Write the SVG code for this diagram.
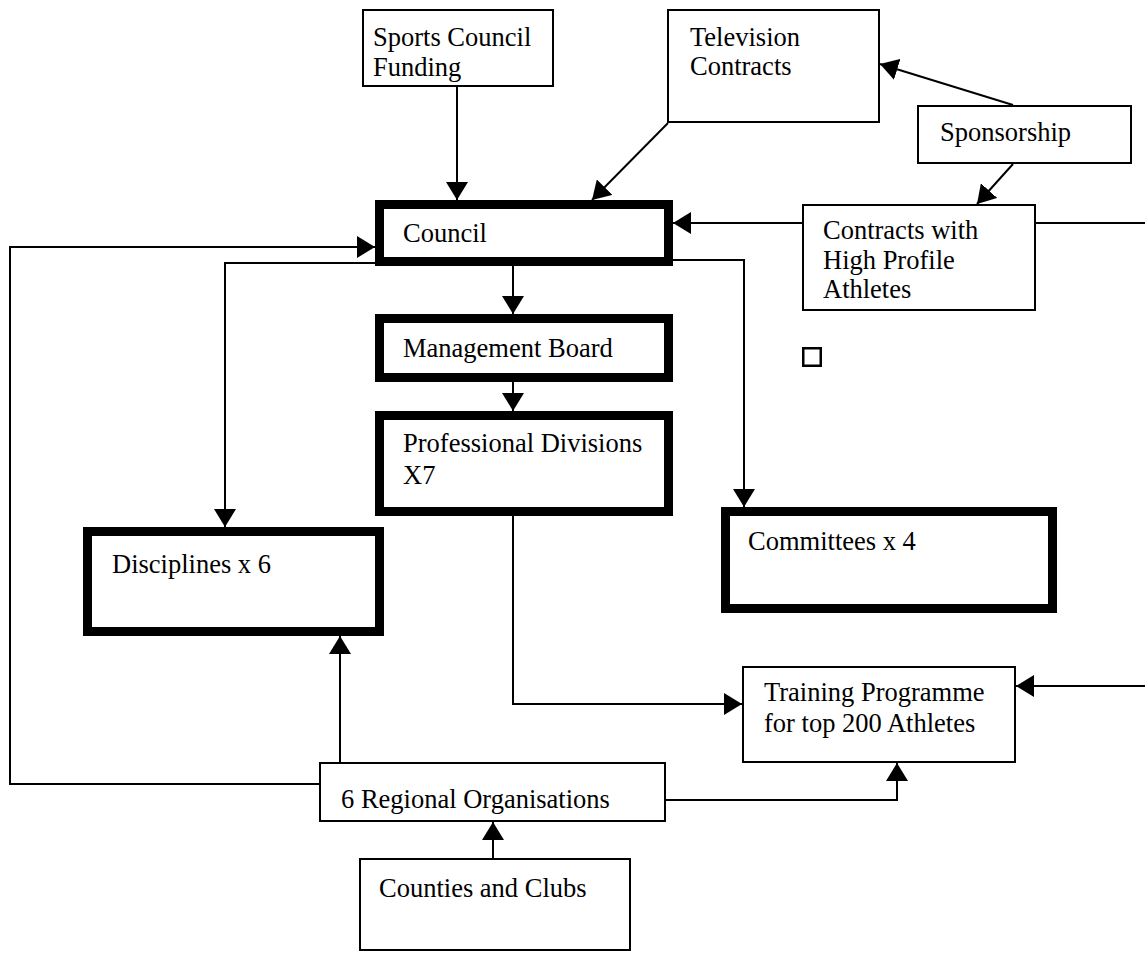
<svg xmlns="http://www.w3.org/2000/svg" width="1145" height="955" viewBox="0 0 1145 955">
  <style>
    .box { fill: #ffffff; stroke: #000000; stroke-width: 2; }
    .heavy { fill: #ffffff; stroke: #000000; stroke-width: 9; }
    .label { font-family: "Liberation Serif", "Times New Roman", serif; font-size: 26.5px; fill: #000000; }
    .link { fill: none; stroke: #000000; stroke-width: 2; marker-end: url(#arrow); }
    .plain { fill: none; stroke: #000000; stroke-width: 2; }
  </style>
  <defs>
    <marker id="arrow" markerUnits="userSpaceOnUse" markerWidth="18" markerHeight="22" refX="18" refY="11" orient="auto">
      <path d="M0,0 L18,11 L0,22 Z" fill="#000000"/>
    </marker>
  </defs>
  <rect width="1145" height="955" fill="#ffffff"/>

  <!-- connectors -->
  <g id="connectors">
    <path class="link" d="M457,87 V200"/>
    <path class="link" d="M668,123 L592,200"/>
    <path class="link" d="M1013,105 L880,64"/>
    <path class="link" d="M1013,164 L977,204"/>
    <path class="link" d="M802,223 H673"/>
    <path class="plain" d="M1036,223 H1145"/>
    <path class="link" d="M513,266 V314"/>
    <path class="link" d="M513,382 V411"/>
    <path class="link" d="M375,263 H225 V527"/>
    <path class="link" d="M673,260 H744 V507"/>
    <path class="link" d="M513,516 V704 H742"/>
    <path class="link" d="M1145,686 H1016"/>
    <path class="link" d="M319,784 H10 V247 H375"/>
    <path class="link" d="M340,762 V636"/>
    <path class="link" d="M666,800 H897 V763"/>
    <path class="link" d="M493,858 V822"/>
  </g>

  <g id="sports-council-funding">
    <rect class="box" x="363" y="10" width="190" height="76"/>
    <text class="label" x="373" y="46">Sports Council</text>
    <text class="label" x="373" y="76">Funding</text>
  </g>

  <g id="television-contracts">
    <rect class="box" x="668" y="10" width="211" height="112"/>
    <text class="label" x="690" y="46">Television</text>
    <text class="label" x="690" y="75">Contracts</text>
  </g>

  <g id="sponsorship">
    <rect class="box" x="918" y="106" width="213" height="57"/>
    <text class="label" x="940" y="141">Sponsorship</text>
  </g>

  <g id="council">
    <rect class="heavy" x="379.5" y="204.5" width="289" height="57"/>
    <text class="label" x="403" y="242">Council</text>
  </g>

  <g id="athlete-contracts">
    <rect class="box" x="803" y="205" width="232" height="105"/>
    <text class="label" x="823" y="239">Contracts with</text>
    <text class="label" x="823" y="269">High Profile</text>
    <text class="label" x="823" y="298">Athletes</text>
  </g>

  <g id="marker-square">
    <rect x="803.25" y="348.25" width="17.5" height="17.5" fill="#ffffff" stroke="#000000" stroke-width="2.5"/>
  </g>

  <g id="management-board">
    <rect class="heavy" x="379.5" y="318.5" width="289" height="59"/>
    <text class="label" x="403" y="357">Management Board</text>
  </g>

  <g id="professional-divisions">
    <rect class="heavy" x="379.5" y="415.5" width="289" height="96"/>
    <text class="label" x="403" y="452">Professional Divisions</text>
    <text class="label" x="403" y="484">X7</text>
  </g>

  <g id="disciplines">
    <rect class="heavy" x="87.5" y="531.5" width="292" height="100"/>
    <text class="label" x="112" y="573">Disciplines x 6</text>
  </g>

  <g id="committees">
    <rect class="heavy" x="725.5" y="511.5" width="327" height="97"/>
    <text class="label" x="748" y="550">Committees x 4</text>
  </g>

  <g id="training-programme">
    <rect class="box" x="743" y="667" width="272" height="95"/>
    <text class="label" x="764" y="701">Training Programme</text>
    <text class="label" x="764" y="732">for top 200 Athletes</text>
  </g>

  <g id="regional-organisations">
    <rect class="box" x="320" y="763" width="345" height="58"/>
    <text class="label" x="341" y="808">6 Regional Organisations</text>
  </g>

  <g id="counties-and-clubs">
    <rect class="box" x="360" y="859" width="270" height="91"/>
    <text class="label" x="379" y="897">Counties and Clubs</text>
  </g>
</svg>
